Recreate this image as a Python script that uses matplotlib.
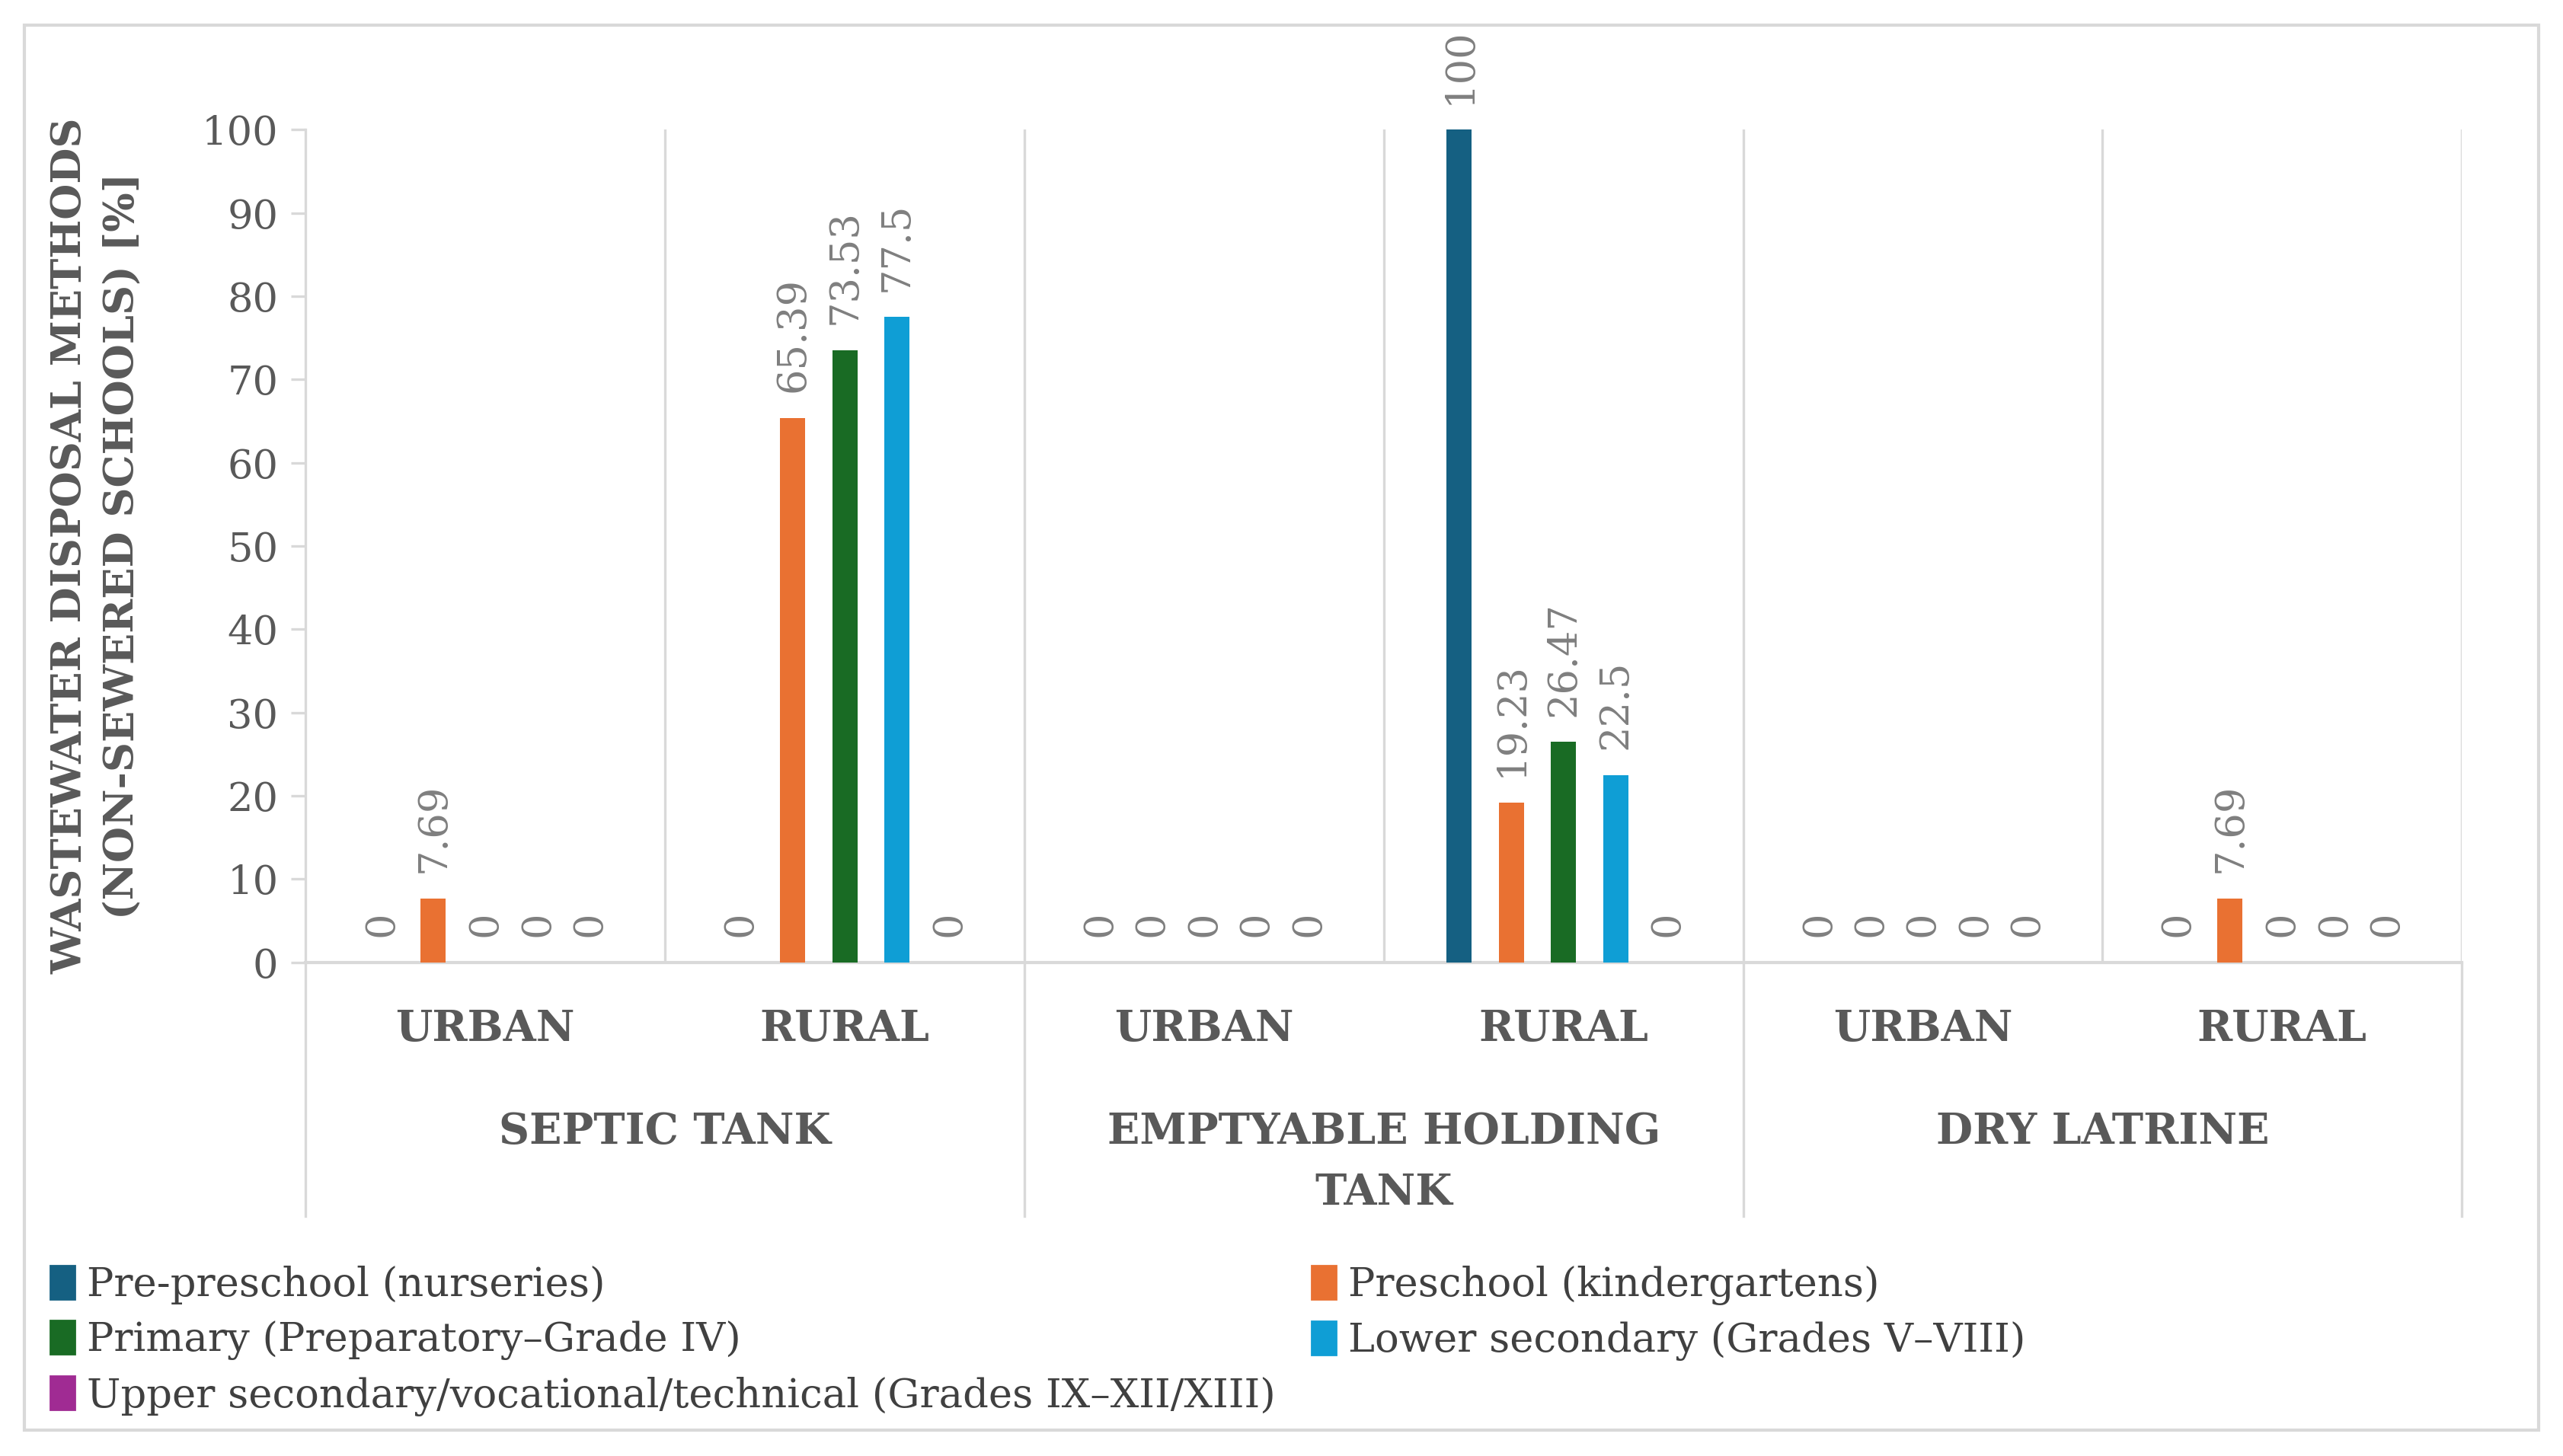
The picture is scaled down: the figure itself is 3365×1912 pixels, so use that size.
import matplotlib.pyplot as plt
from matplotlib.patches import Rectangle
from matplotlib.lines import Line2D

# data
groups = ['URBAN', 'RURAL', 'URBAN', 'RURAL', 'URBAN', 'RURAL']
categories = ['SEPTIC TANK', 'EMPTYABLE HOLDING\nTANK', 'DRY LATRINE']
series_names = ['Pre-preschool (nurseries)',
                'Preschool (kindergartens)',
                'Primary (Preparatory\u2013Grade IV)',
                'Lower secondary (Grades V\u2013VIII)',
                'Upper secondary/vocational/technical (Grades IX\u2013XII/XIII)']
pre_preschool = [0, 0, 0, 100, 0, 0]
preschool = [7.69, 65.39, 0, 19.23, 0, 7.69]
primary = [0, 73.53, 0, 26.47, 0, 0]
lower_secondary = [0, 77.5, 0, 22.5, 0, 0]
upper_secondary = [0, 0, 0, 0, 0, 0]
series_values = [pre_preschool, preschool, primary, lower_secondary, upper_secondary]
colors = ['#156082', '#E97132', '#196B24', '#0F9ED5', '#A02B93']

plt.rcParams['font.family'] = 'DejaVu Serif'
text_gray = '#595959'
grid_gray = '#D9D9D9'

fig = plt.figure(figsize=(16.825, 9.56), dpi=200)
ax = fig.add_axes([0.1193, 0.339, 0.8412, 0.572])

step = 0.145
width = 0.07
for i, vals in enumerate(series_values):
    xs = [g + (i - 2) * step for g in range(len(groups))]
    ax.bar(xs, vals, width=width, color=colors[i], zorder=3)
    for x, v in zip(xs, vals):
        ax.annotate(f'{v:g}', (x, v), xytext=(0, 12), textcoords='offset points',
                    rotation=90, ha='center', va='bottom', fontsize=19,
                    color='#7F7F7F', annotation_clip=False)

ax.set_xlim(-0.5, len(groups) - 0.5)
ax.set_ylim(0, 100)
ax.set_yticks(range(0, 101, 10))
ax.tick_params(axis='y', colors=grid_gray, labelcolor=text_gray, labelsize=19,
               length=7, width=1.2, pad=6)
ax.set_xticks([])
for s in ['top', 'right']:
    ax.spines[s].set_visible(False)
ax.spines['left'].set_color(grid_gray)
ax.spines['bottom'].set_color(grid_gray)
ax.spines['left'].set_linewidth(1.2)
ax.spines['bottom'].set_linewidth(1.5)
for g in range(len(groups)):
    ax.axvline(g + 0.5, color=grid_gray, lw=1.2, zorder=1)

# sub-category labels
for g, name in enumerate(groups):
    ax.text(g, -8.0, name, ha='center', va='center', fontsize=20,
            fontweight='bold', color=text_gray, clip_on=False)

# category labels and dividers below the axis
for c, name in enumerate(categories):
    ax.text(2 * c + 0.5, -17.8, name, ha='center', va='top', fontsize=20,
            fontweight='bold', color=text_gray, linespacing=1.6, clip_on=False)
for b in [-0.5, 1.5, 3.5, 5.5]:
    ax.add_line(Line2D([b, b], [0, -30.5], color=grid_gray, lw=1.2,
                       clip_on=False))

ax.set_ylabel('WASTEWATER DISPOSAL METHODS\n(NON-SEWERED SCHOOLS) [%]',
              fontsize=19.5, fontweight='bold', color=text_gray, labelpad=28,
              linespacing=1.4)

handles = [Rectangle((0, 0), 1, 1, color=c) for c in colors]
order = [0, 2, 4, 1, 3]
fig.legend([handles[i] for i in order], [series_names[i] for i in order],
           ncol=2, loc='lower left', bbox_to_anchor=(0.0056, 0.0026),
           frameon=False, fontsize=19, handlelength=0.6, handleheight=0.9,
           handletextpad=0.3, columnspacing=0.9, labelspacing=0.4,
           labelcolor='#404040')

fig.add_artist(Rectangle((0.0095, 0.0178), 0.981, 0.965, transform=fig.transFigure,
                         fill=False, edgecolor=grid_gray, lw=1.5))

plt.savefig('out.png')
plt.close()
